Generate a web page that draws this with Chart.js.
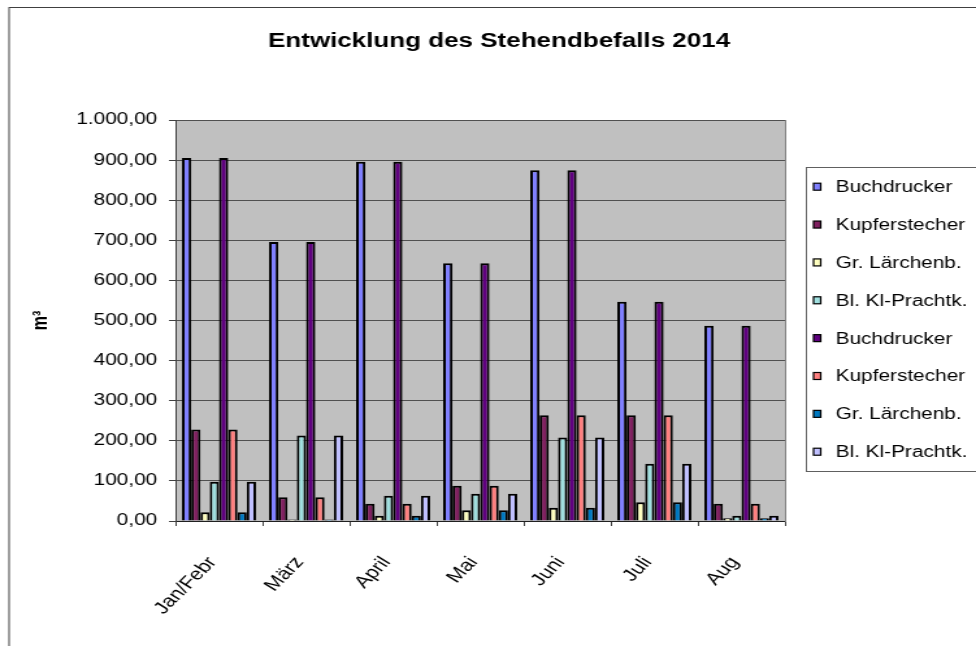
<!DOCTYPE html>
<html>
<head>
<meta charset="utf-8">
<script src="https://cdn.jsdelivr.net/npm/chart.js@4.4.1/dist/chart.umd.min.js"></script>
<style>
  html, body { margin: 0; padding: 0; background: #fff; overflow: hidden; }
  /* the original picture is stretched sideways, so the canvas is too */
  #chart { display: block; transform: scaleX(1.2996); transform-origin: 0 0; }
</style>
</head>
<body>
<canvas id="chart" width="751" height="646"></canvas>
<script>
const months = ['Jan/Febr', 'März', 'April', 'Mai', 'Juni', 'Juli', 'Aug']

const buchdrucker = [905, 696, 896, 643, 875, 547, 487]
const kupferstecher = [228, 59, 43, 88, 264, 264, 43]
const laerchenb = [22, 4, 13, 27, 33, 47, 7]
const prachtk = [98, 213, 63, 68, 208, 143, 13]

const seriesNames = ['Buchdrucker', 'Kupferstecher', 'Gr. Lärchenb.', 'Bl. Kl-Prachtk.',
    'Buchdrucker', 'Kupferstecher', 'Gr. Lärchenb.', 'Bl. Kl-Prachtk.']
const seriesValues = [buchdrucker, kupferstecher, laerchenb, prachtk,
    buchdrucker, kupferstecher, laerchenb, prachtk]
const seriesColors = ['#8080FF', '#802060', '#FFFFC0', '#A0E0E0',
    '#600080', '#FF8080', '#0078C0', '#C0C0FF']

const yTicks = { min: 0, max: 1000, step: 100 }

// 1000 -> "1.000,00"
const formatDe = (v) => {
    const parts = v.toFixed(2).split('.')
    return parts[0].replace(/\B(?=(\d{3})+(?!\d))/g, '.') + ',' + parts[1]
}

const plotBackground = {
    id: 'plotBackground',
    beforeDraw(chart) {
        const { ctx, chartArea } = chart
        ctx.save()
        ctx.fillStyle = '#C0C0C0'
        ctx.fillRect(chartArea.left, chartArea.top, chartArea.right - chartArea.left, chartArea.bottom - chartArea.top)
        ctx.restore()
    }
}

// frame + legend box on the right, like the spreadsheet export
const frameAndLegend = {
    id: 'frameAndLegend',
    afterDraw(chart) {
        const ctx = chart.ctx
        ctx.save()
        ctx.strokeStyle = '#404040'
        ctx.lineWidth = 1
        ctx.strokeRect(7, 7.5, 1000, 1000)

        ctx.strokeStyle = '#606060'
        ctx.strokeRect(620.5, 167.5, 200, 304)

        ctx.font = '16px "Liberation Sans", Arial, sans-serif'
        ctx.textBaseline = 'middle'
        ctx.textAlign = 'left'
        chart.data.datasets.forEach((ds, i) => {
            const y = 186.7 + i * 37.86
            ctx.fillStyle = ds.backgroundColor
            ctx.fillRect(626, y - 3.5, 5.5, 7)
            ctx.strokeStyle = '#000'
            ctx.lineWidth = 1.2
            ctx.strokeRect(626, y - 3.5, 5.5, 7)
            ctx.fillStyle = '#000'
            ctx.fillText(ds.label, 643, y + 1)
        })
        ctx.restore()
    }
}

Chart.defaults.font.family = '"Liberation Sans", Arial, sans-serif'
Chart.defaults.font.size = 16
Chart.defaults.color = '#000'

const chartInstance = new Chart(document.getElementById('chart'), {
    type: 'bar',
    data: {
        labels: months,
        datasets: seriesNames.map((name, i) => ({
            label: name,
            data: seriesValues[i],
            backgroundColor: seriesColors[i],
            borderColor: '#000',
            borderWidth: 2,
            categoryPercentage: 0.85,
            barPercentage: 1.0,
            yAxisID: 'y',
        }))
    },
    options: {
        responsive: false,
        animation: false,
        devicePixelRatio: 1,
        layout: { padding: { left: 17, right: 0, top: 0, bottom: 0 } },
        plugins: {
            legend: { display: false },
            tooltip: { enabled: false },
            title: {
                display: true,
                text: 'Entwicklung des Stehendbefalls 2014',
                font: { size: 20, weight: 'bold' },
                color: '#000',
                padding: { top: 29, bottom: 67 },
            },
        },
        scales: {
            x: {
                grid: {
                    offset: true,
                    drawOnChartArea: false,
                    drawTicks: true,
                    tickLength: 5,
                    color: '#404040',
                },
                border: { color: '#202020' },
                ticks: {
                    minRotation: 52,
                    maxRotation: 52,
                    autoSkip: false,
                    padding: 27,
                    labelOffset: -5,
                    font: { size: 17 },
                },
                afterFit: (scale) => { scale.height = 125 },
            },
            y: {
                min: yTicks.min,
                max: yTicks.max,
                grid: {
                    color: '#505050',
                    tickLength: 5,
                    tickColor: '#404040',
                },
                border: { color: '#404040' },
                ticks: {
                    stepSize: yTicks.step,
                    padding: 9,
                    callback: (v) => formatDe(v),
                    font: { size: 16 },
                },
                title: {
                    display: true,
                    text: 'm³',
                    font: { size: 16, weight: 'bold' },
                    padding: { top: 5 },
                },
                afterFit: (scale) => { scale.width = 118 },
            },
            // empty right axis: only closes the plot area and leaves room for the legend
            yRight: {
                position: 'right',
                min: yTicks.min,
                max: yTicks.max,
                grid: { display: false, drawTicks: false },
                ticks: { display: false },
                border: { display: true, color: '#808080' },
                afterFit: (scale) => { scale.width = 147 },
            },
        },
    },
    plugins: [plotBackground, frameAndLegend],
})
</script>
</body>
</html>
